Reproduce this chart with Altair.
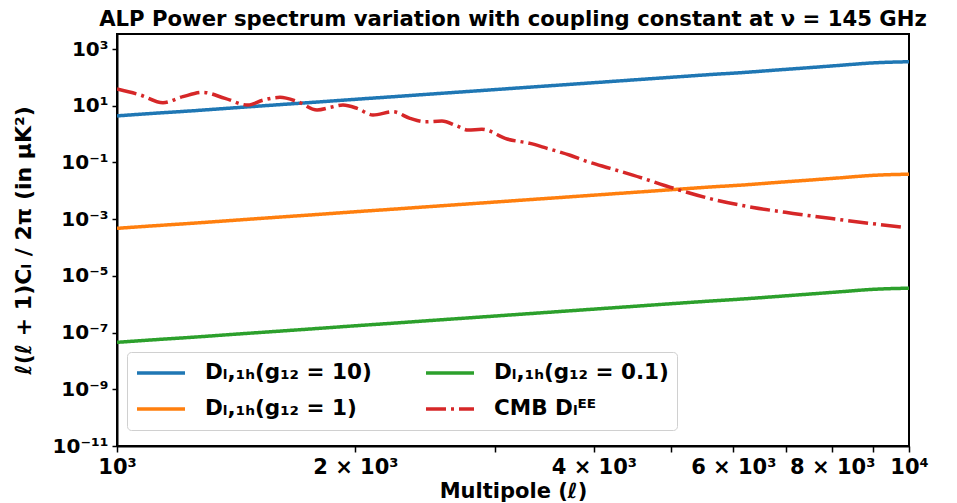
import altair as alt
import pandas as pd

# Multipoles at which the one-halo ALP spectra were read
ell_model = [1000, 1100, 1250, 1400, 1600, 1800, 2000, 2250, 2500, 2800, 3200,
             3600, 4000, 4500, 5000, 5600, 6200, 6800, 7500, 8200, 9000, 10000]
d_g10 = [4.4, 5.3, 6.7, 8.4, 10.9, 13.7, 16.9, 21.2, 26.1, 32.5, 42.2,
         53.1, 65.2, 82.0, 100.7, 125.6, 150.0, 182.0, 222.0, 268.0, 325.0, 357.0]
d_g1 = [4.75e-4, 5.72e-4, 7.24e-4, 9.07e-4, 1.18e-3, 1.48e-3, 1.83e-3, 2.29e-3,
        2.82e-3, 3.51e-3, 4.56e-3, 5.73e-3, 7.04e-3, 8.86e-3, 1.09e-2, 1.36e-2,
        1.62e-2, 1.97e-2, 2.40e-2, 2.89e-2, 3.51e-2, 3.86e-2]
d_g01 = [4.53e-8, 5.46e-8, 6.90e-8, 8.65e-8, 1.12e-7, 1.41e-7, 1.74e-7, 2.18e-7,
         2.69e-7, 3.35e-7, 4.35e-7, 5.47e-7, 6.72e-7, 8.45e-7, 1.04e-6, 1.29e-6,
         1.55e-6, 1.87e-6, 2.29e-6, 2.76e-6, 3.35e-6, 3.68e-6]

# CMB EE spectrum
ell_cmb = [1000, 1070, 1143, 1211, 1284, 1369, 1463, 1529, 1606, 1692, 1789, 1860,
           1929, 2010, 2105, 2231, 2344, 2448, 2572, 2687, 2775, 2889, 3108, 3323,
           3491, 3733, 3874, 4195, 4480, 5094, 5655, 6355, 7138, 7945, 8929, 9850]
d_cmb_ee = [39.0, 24.0, 12.8, 21.0, 29.7, 18.2, 10.6, 15.8, 19.8, 13.8, 7.1, 8.8,
            10.6, 8.1, 4.7, 6.15, 3.6, 2.73, 2.9, 1.93, 1.39, 1.48, 0.67, 0.47,
            0.316, 0.18, 0.122, 0.062, 0.036, 0.0113, 0.005, 0.0026, 0.0016,
            0.00107, 0.00071, 0.00052]

S_G10 = "Dₗ,₁ₕ(g₁₂ = 10)"
S_G1 = "Dₗ,₁ₕ(g₁₂ = 1)"
S_G01 = "Dₗ,₁ₕ(g₁₂ = 0.1)"
S_CMB = "CMB Dₗᴱᴱ"

series_order = [S_G10, S_G1, S_G01, S_CMB]
series_colors = ["#1f77b4", "#ff7f0e", "#2ca02c", "#d62728"]
series_dash = [[1, 0], [1, 0], [1, 0], [20, 5, 3, 5]]

x_ticks = [1000, 2000, 3000, 4000, 5000, 6000, 7000, 8000, 9000, 10000]
y_ticks = [1e-11, 1e-9, 1e-7, 1e-5, 1e-3, 1e-1, 1e1, 1e3]

rows = []
for name, vals in [(S_G10, d_g10), (S_G1, d_g1), (S_G01, d_g01)]:
    for l, v in zip(ell_model, vals):
        rows.append({"ell": l, "D": v, "series": name})
for l, v in zip(ell_cmb, d_cmb_ee):
    rows.append({"ell": l, "D": v, "series": S_CMB})
df = pd.DataFrame(rows)

FONT = "DejaVu Sans"

x_label_expr = (
    "datum.value == 1000 ? '10³' : datum.value == 2000 ? '2 × 10³' : "
    "datum.value == 4000 ? '4 × 10³' : datum.value == 6000 ? '6 × 10³' : "
    "datum.value == 8000 ? '8 × 10³' : datum.value == 10000 ? '10⁴' : ''"
)
y_label_expr = (
    "round(log(datum.value)/LN10) == 3 ? '10³' : "
    "round(log(datum.value)/LN10) == 1 ? '10¹' : "
    "round(log(datum.value)/LN10) == -1 ? '10⁻¹' : "
    "round(log(datum.value)/LN10) == -3 ? '10⁻³' : "
    "round(log(datum.value)/LN10) == -5 ? '10⁻⁵' : "
    "round(log(datum.value)/LN10) == -7 ? '10⁻⁷' : "
    "round(log(datum.value)/LN10) == -9 ? '10⁻⁹' : '10⁻¹¹'"
)

x_enc = alt.X(
    "ell:Q",
    scale=alt.Scale(type="log", domain=[1000, 10000], nice=False),
    axis=alt.Axis(
        values=x_ticks, labelExpr=x_label_expr, title="Multipole (ℓ)",
        grid=False, tickSize=6, labelPadding=4, titleY=45,
        titleBaseline="middle", labelFlush=False, labelOverlap=False,
        labelFontSize=21,
    ),
)
y_enc = alt.Y(
    "D:Q",
    scale=alt.Scale(type="log", domain=[1e-11, 3400], nice=False),
    axis=alt.Axis(
        values=y_ticks, labelExpr=y_label_expr,
        title="ℓ(ℓ + 1)Cₗ / 2π (in μK²)",
        grid=False, tickSize=5, labelPadding=4, titleX=-94, titleY=206,
        titleAngle=-90, titleAlign="center", titleBaseline="middle",
        labelFlush=False, labelOverlap=False, titleFontSize=22,
    ),
)

legend_kw = dict(
    orient="none", legendX=10, legendY=318, columns=2, title=None,
    symbolType="stroke", symbolSize=2304, symbolStrokeWidth=3.5,
    labelFontSize=21.5, labelFont=FONT, labelFontWeight="bold",
    labelColor="black", labelOffset=18, columnPadding=52, rowPadding=10,
    clipHeight=26, padding=8, fillColor="white", strokeColor="#d0d0d0",
    cornerRadius=4, labelLimit=400,
)
color_enc = alt.Color(
    "series:N",
    scale=alt.Scale(domain=series_order, range=series_colors),
    legend=alt.Legend(**legend_kw),
)
dash_enc = alt.StrokeDash(
    "series:N",
    scale=alt.Scale(domain=series_order, range=series_dash),
    legend=alt.Legend(**legend_kw),
)

base = alt.Chart(df).mark_line(strokeWidth=3.5, interpolate="monotone", clip=True).encode(
    x=x_enc, y=y_enc, color=color_enc, strokeDash=dash_enc
)
solid = base.transform_filter(alt.datum.series != S_CMB)
cmb = base.transform_filter(alt.datum.series == S_CMB)

chart = (
    alt.layer(solid, cmb)
    .properties(
        width=792, height=412,
        autosize=alt.AutoSizeParams(type="none"),
        padding={"left": 109, "top": 26, "right": 40, "bottom": 57},
        title=alt.TitleParams(
            "ALP Power spectrum variation with coupling constant at ν = 145 GHz",
            font=FONT, fontSize=21.2, fontWeight="bold", color="black",
            anchor="middle", frame="group", offset=4,
        ),
    )
    .configure(font=FONT)
    .configure_view(stroke="black", strokeWidth=2)
    .configure_axis(
        labelFont=FONT, labelFontSize=20, labelFontWeight="bold", labelColor="black",
        titleFont=FONT, titleFontSize=21, titleFontWeight="bold", titleColor="black",
        tickColor="black", tickWidth=1.5, domainColor="black", domainWidth=2,
    )
)

chart.save("out.html", embed_options={"renderer": "svg", "actions": False})
